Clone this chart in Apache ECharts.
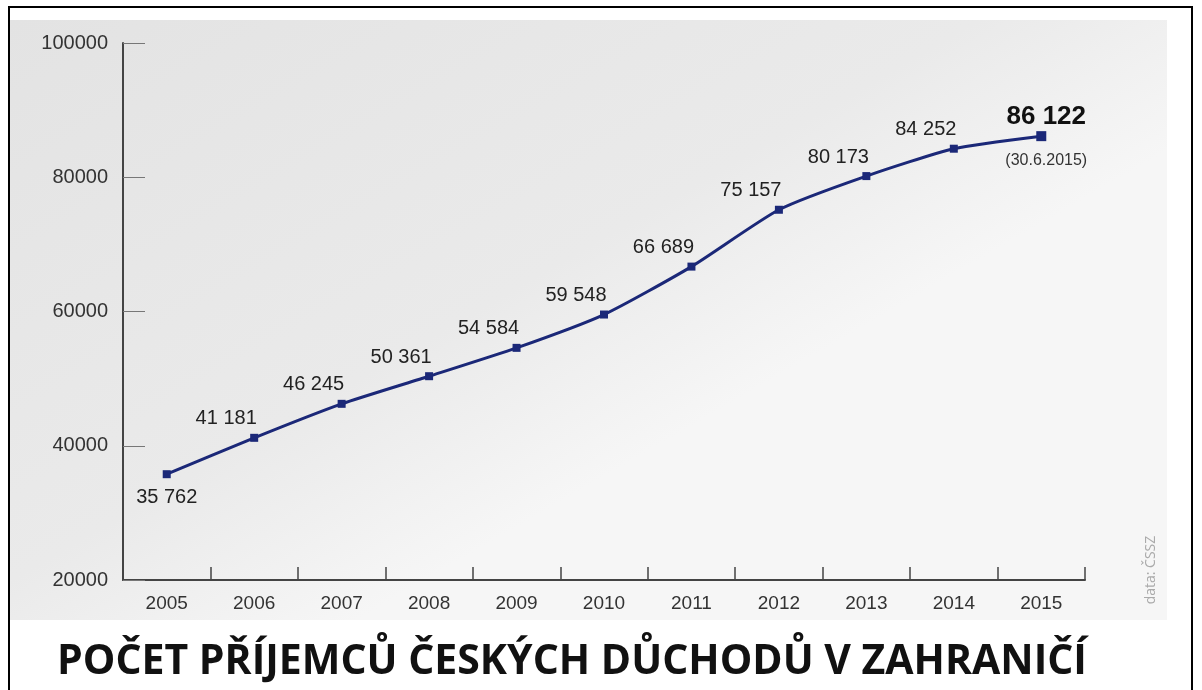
<!DOCTYPE html>
<html>
<head>
<meta charset="utf-8">
<script src="https://cdn.jsdelivr.net/npm/echarts@6/dist/echarts.min.js"></script>
<style>
  html, body { margin: 0; padding: 0; background: #fff; }
  #chart { width: 1202px; height: 690px; }
</style>
</head>
<body>
<div id="chart"></div>
<script>
const years = ['2005', '2006', '2007', '2008', '2009', '2010', '2011', '2012', '2013', '2014', '2015'];
const recipients = [35762, 41181, 46245, 50361, 54584, 59548, 66689, 75157, 80173, 84252, 86122];
const valueLabels = ['35 762', '41 181', '46 245', '50 361', '54 584', '59 548', '66 689', '75 157', '80 173', '84 252', '86 122'];
const lastNote = '(30.6.2015)';
const yTicks = { min: 20000, max: 100000, interval: 20000 };
const titleText = 'POČET PŘÍJEMCŮ ČESKÝCH DŮCHODŮ V ZAHRANIČÍ';
const sourceText = 'data: ČSSZ';

const navy = '#1b2878';

const seriesData = recipients.map((v, i) => {
    const item = { value: v };
    if (i === 0) {
        item.label = { position: 'bottom', distance: 9, offset: [0, 0] };
    } else if (i === recipients.length - 1) {
        item.symbolSize = 10;
        item.label = {
            position: 'inside',
            offset: [5, 0],
            formatter: '{b|' + valueLabels[i] + '}\n{s|' + lastNote + '}',
            rich: {
                b: { fontSize: 26, fontWeight: 'bold', color: '#111', lineHeight: 48, fontFamily: 'Liberation Sans' },
                s: { fontSize: 16, color: '#333', lineHeight: 38, fontFamily: 'Liberation Sans' }
            }
        };
    }
    return item;
});

const chart = echarts.init(document.getElementById('chart'));

chart.setOption({
    animation: false,
    backgroundColor: '#ffffff',
    grid: { left: 123, right: 117, top: 43, bottom: 110 },
    xAxis: {
        type: 'category',
        data: years,
        boundaryGap: true,
        axisLine: { show: true, lineStyle: { color: '#444', width: 2 } },
        axisTick: { show: true, inside: true, length: 13, lineStyle: { color: '#444', width: 1.5 } },
        axisLabel: { color: '#333', fontSize: 19, margin: 14, fontFamily: 'Liberation Sans' },
        splitLine: { show: false }
    },
    yAxis: {
        type: 'value',
        min: yTicks.min,
        max: yTicks.max,
        interval: yTicks.interval,
        axisLine: { show: true, lineStyle: { color: '#444', width: 2 } },
        axisTick: { show: true, inside: true, length: 22, lineStyle: { color: '#777', width: 1 } },
        axisLabel: {
            color: '#333', fontSize: 20, margin: 15, fontFamily: 'Liberation Sans',
            formatter: v => String(v)
        },
        splitLine: { show: false }
    },
    series: [{
        type: 'line',
        data: seriesData,
        smooth: 0.2,
        symbol: 'rect',
        symbolSize: 8,
        lineStyle: { color: navy, width: 3 },
        itemStyle: { color: navy },
        label: {
            show: true,
            position: 'top',
            distance: 5,
            offset: [-28, 0],
            color: '#222',
            fontSize: 20,
            fontFamily: 'Liberation Sans',
            formatter: p => valueLabels[p.dataIndex]
        }
    }],
    graphic: [
        {
            type: 'rect',
            z: -10,
            silent: true,
            shape: { x: 10, y: 20, width: 1157, height: 600 },
            style: {
                fill: {
                    type: 'linear', x: 0, y: 0, x2: 0.3, y2: 1,
                    colorStops: [
                        { offset: 0, color: '#e3e3e3' },
                        { offset: 0.7, color: '#eaeaea' },
                        { offset: 1, color: '#f6f6f6' }
                    ]
                }
            }
        },
        {
            type: 'rect',
            z: 10,
            silent: true,
            shape: { x: 9, y: 7, width: 1183, height: 720 },
            style: { fill: 'none', stroke: '#000', lineWidth: 2 }
        },
        {
            type: 'text',
            z: 10,
            x: 57,
            y: 662,
            style: {
                text: titleText,
                fill: '#111',
                font: 'bold 41px "Open Sans"',
                textVerticalAlign: 'middle'
            }
        },
        {
            type: 'text',
            z: 10,
            x: 1151,
            y: 570,
            rotation: Math.PI / 2,
            style: {
                text: sourceText,
                fill: '#aaa',
                font: '14px "Open Sans"',
                textAlign: 'center',
                textVerticalAlign: 'middle'
            }
        }
    ]
});
</script>
</body>
</html>
